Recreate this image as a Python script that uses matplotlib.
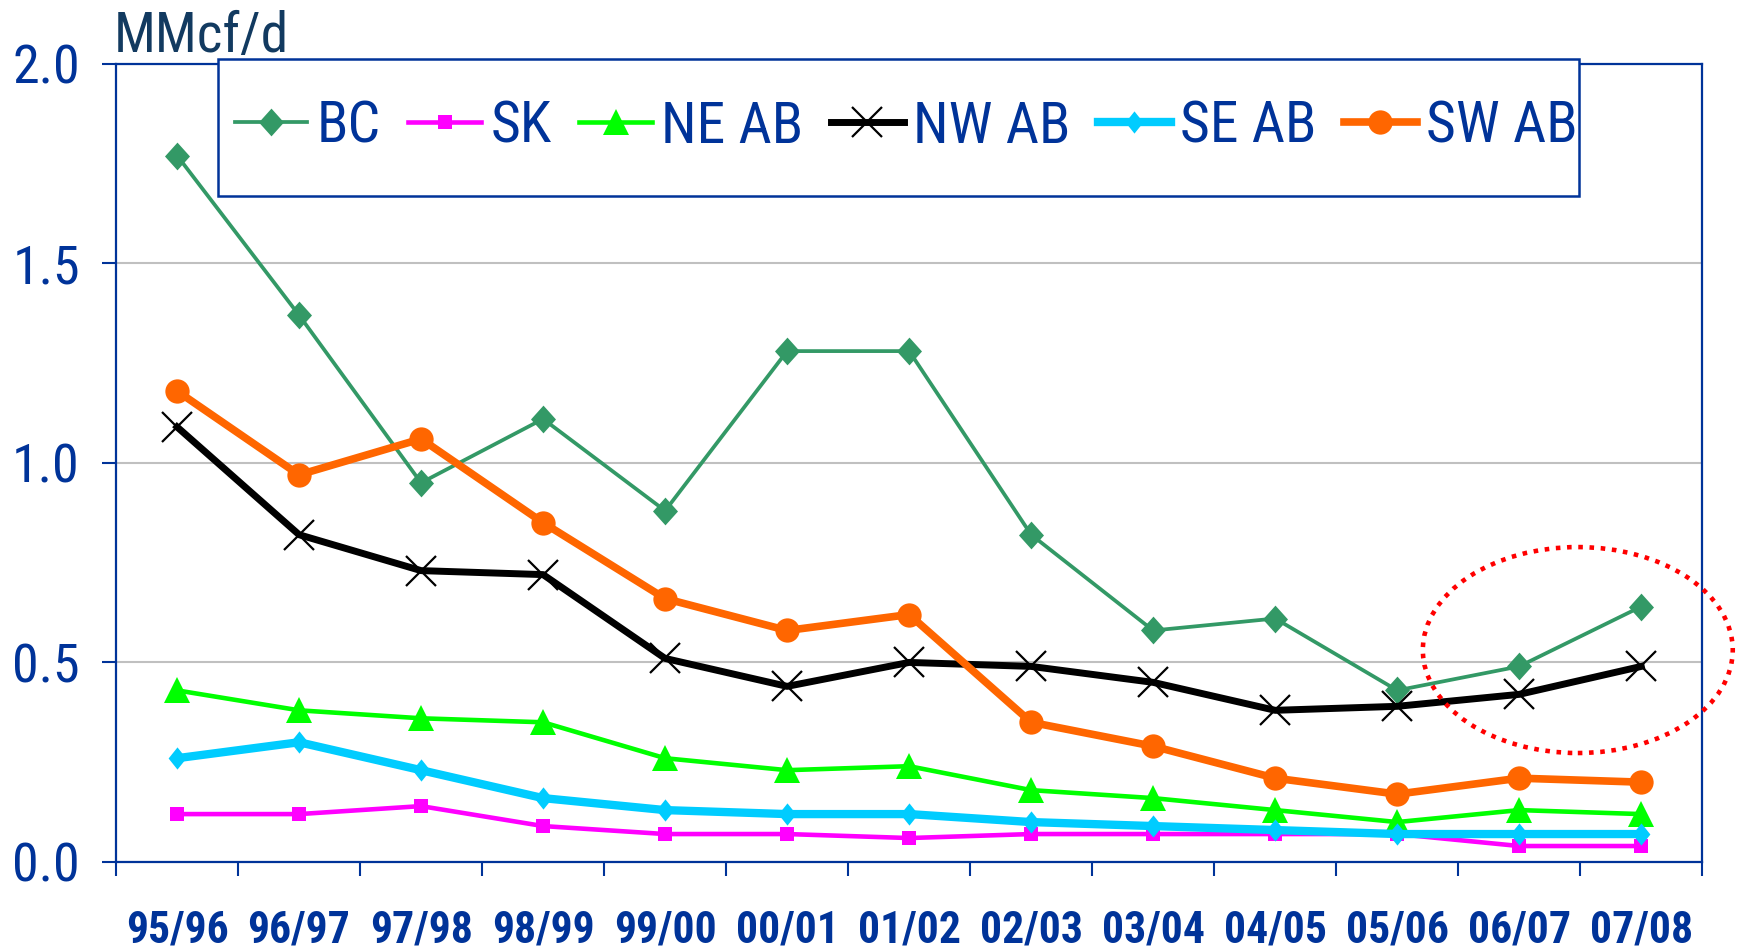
import numpy as np
import matplotlib
matplotlib.use("Agg")
import matplotlib.pyplot as plt
from matplotlib import font_manager as fm
from matplotlib.patches import Ellipse, Rectangle

categories = ["95/96", "96/97", "97/98", "98/99", "99/00", "00/01", "01/02",
              "02/03", "03/04", "04/05", "05/06", "06/07", "07/08"]
bc = [1.77, 1.37, 0.95, 1.11, 0.88, 1.28, 1.28, 0.82, 0.58, 0.61, 0.43, 0.49, 0.64]
sk = [0.12, 0.12, 0.14, 0.09, 0.07, 0.07, 0.06, 0.07, 0.07, 0.07, 0.07, 0.04, 0.04]
ne_ab = [0.43, 0.38, 0.36, 0.35, 0.26, 0.23, 0.24, 0.18, 0.16, 0.13, 0.10, 0.13, 0.12]
nw_ab = [1.09, 0.82, 0.73, 0.72, 0.51, 0.44, 0.50, 0.49, 0.45, 0.38, 0.39, 0.42, 0.49]
se_ab = [0.26, 0.30, 0.23, 0.16, 0.13, 0.12, 0.12, 0.10, 0.09, 0.08, 0.07, 0.07, 0.07]
sw_ab = [1.18, 0.97, 1.06, 0.85, 0.66, 0.58, 0.62, 0.35, 0.29, 0.21, 0.17, 0.21, 0.20]
yticks = [0.0, 0.5, 1.0, 1.5, 2.0]
ytick_labels = ["0.0", "0.5", "1.0", "1.5", "2.0"]


def find_condensed(bold):
    """Look for an installed narrow / condensed sans face (regular or bold)."""
    prefs = ["Liberation Sans Narrow", "Arial Narrow", "Roboto Condensed",
             "Open Sans Condensed", "Noto Sans", "Open Sans", "Roboto",
             "DejaVu Sans", "Liberation Sans"]
    want_w = 700 if bold else 400
    best = None
    for f in fm.fontManager.ttflist:
        if f.style != "normal":
            continue
        nm = f.name
        is_cond = (f.stretch in ("condensed", "semi-condensed")
                   or "Narrow" in nm or "Condensed" in nm)
        if not is_cond or "Extra" in nm:
            continue
        base = None
        for i, p in enumerate(prefs):
            if nm.startswith(p):
                base = i
                break
        if base is None:
            continue
        try:
            w = int(f.weight)
        except (TypeError, ValueError):
            w = 700 if "bold" in str(f.weight).lower() else 400
        score = (base, abs(w - want_w), 0 if f.stretch == "condensed" else 1)
        if best is None or score < best[0]:
            best = (score, f.fname)
    if best is not None and best[0][1] <= 100:
        return fm.FontProperties(fname=best[1]), 1.0
    fam = ["Liberation Sans", "DejaVu Sans"]
    return fm.FontProperties(family=fam, weight="bold" if bold else "normal"), 0.84


fp_reg, k_reg = find_condensed(False)
fp_bold, k_bold = find_condensed(True)

plt.rcParams["font.family"] = ["Liberation Sans", "DejaVu Sans"]
BLUE = "#003399"


def fprop(base, size):
    p = base.copy()
    p.set_size(size)
    return p


fig = plt.figure(figsize=(17.37, 9.51), dpi=100)
ax = fig.add_axes([0.0668, 0.0936, 0.9132, 0.8394])

x = np.arange(len(categories))
diamond = [(0, 1), (0.9, 0), (0, -1), (-0.9, 0)]
thin_diamond = [(0, 1), (0.8, 0), (0, -1), (-0.8, 0)]

series = [
    ("BC", bc, dict(color="#339966", lw=2.7, marker=diamond, ms=20, mew=0)),
    ("SK", sk, dict(color="#FF00FF", lw=3.3, marker="s", ms=9.5, mew=0)),
    ("NE AB", ne_ab, dict(color="#00FF00", lw=3.3, marker="^", ms=18.5, mew=0)),
    ("NW AB", nw_ab, dict(color="black", lw=5, marker="x", ms=21, mew=1.6)),
    ("SE AB", se_ab, dict(color="#00CCFF", lw=6, marker=thin_diamond, ms=16, mew=0)),
    ("SW AB", sw_ab, dict(color="#FF6600", lw=5.5, marker="o", ms=17.5, mew=0)),
]
handles = []
for i, (name, vals, st) in enumerate(series):
    h, = ax.plot(x, vals, label=name, zorder=3 + i, clip_on=False, **st)
    handles.append(h)

ax.set_xlim(-0.5, len(categories) - 0.5)
ax.set_ylim(0, 2.0)

ax.set_xticks(np.arange(len(categories) + 1) - 0.5)
ax.set_xticklabels([])
ax.set_xticks(x, minor=True)
ax.set_xticklabels(categories, minor=True, color=BLUE,
                   fontproperties=fprop(fp_bold, 31.5 * k_bold))
ax.tick_params(axis="x", which="major", direction="out", length=10, width=1.5, color=BLUE)
ax.tick_params(axis="x", which="minor", length=0, pad=34)

ax.set_yticks(yticks)
ax.set_yticklabels(ytick_labels, color=BLUE, fontproperties=fprop(fp_reg, 39 * k_reg))
ax.tick_params(axis="y", direction="out", length=10, width=1.5, color=BLUE, pad=16)

ax.grid(axis="y", color="#C0C0C0", lw=1.5, zorder=0)
ax.set_axisbelow(True)
for s in ax.spines.values():
    s.set_color(BLUE)
    s.set_linewidth(1.6)

fig.text(0.0656, 0.945, "MMcf/d", color="#123A60", va="baseline", ha="left",
         fontproperties=fprop(fp_reg, 40 * k_reg))

# legend frame
fig.patches.append(Rectangle((0.1255, 0.7939), 0.7835, 0.144, transform=fig.transFigure,
                             facecolor="white", edgecolor=BLUE, lw=1.8, zorder=20))
LFS = 41.5
leg = fig.legend(handles=handles, loc="center left", bbox_to_anchor=(0.1352, 0.8664),
                 ncol=6, frameon=False, prop=fprop(fp_reg, LFS * k_reg),
                 handlelength=1.26 / k_reg, handletextpad=0.16 / k_reg,
                 columnspacing=0.48 / k_reg, borderpad=0, borderaxespad=0)
leg.set_zorder(21)
for t in leg.get_texts():
    t.set_color(BLUE)

ell = Ellipse((11.48, 0.531), 2.54, 0.516, fill=False, edgecolor="#FF0000", lw=3.3,
              linestyle=(0, (1, 1.45)), clip_on=False, zorder=15)
ax.add_patch(ell)

fig.savefig("out.png", dpi=100)
